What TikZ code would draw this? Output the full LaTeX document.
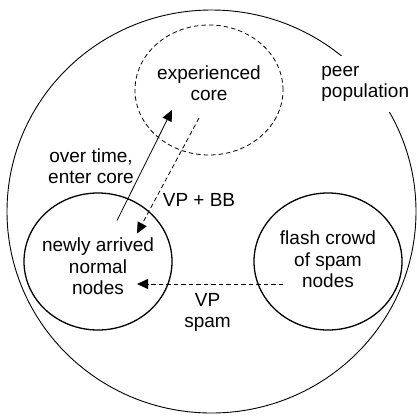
\documentclass[tikz,border=0pt]{standalone}
\usepackage{fontspec}
\setmainfont{Liberation Sans}
\usetikzlibrary{shapes.geometric,arrows.meta,calc}
\tikzset{
  blob/.style={ellipse, draw, line width=1.3pt, inner sep=0pt},
  lbl/.style={align=center, inner sep=1pt},
  tip/.style={-{Triangle[length=11pt,width=10pt]}},
  dsh/.style={dash pattern=on 4.5pt off 3pt},
}
\begin{document}
\begin{tikzpicture}[x=1pt,y=-1pt,font=\fontsize{19}{21.5}\selectfont, line width=0.8pt]
\useasboundingbox (0,0) rectangle (417,416);
\node[ellipse, draw, line width=0.9pt, minimum width=409pt, minimum height=403pt, inner sep=0pt] (pop) at (211.5,211.5) {};
\node[anchor=west, align=left, fill=white, inner sep=10pt] (poplbl) at (311,84) {peer\\population};
\node[ellipse, draw, dsh, line width=0.8pt, minimum width=148pt, minimum height=130pt, inner sep=0pt] (core) at (209,90) {};
\node[blob, minimum width=148pt, minimum height=137pt] (newly) at (98,261.5) {};
\node[blob, minimum width=148pt, minimum height=137pt] (spam) at (328,261.5) {};
\node[lbl] (coretxt) at ($(core.center)+(0,-7)$) {experienced\\core};
\node[lbl] (newlytxt) at ($(newly.center)+(0,5)$) {newly arrived\\normal\\nodes};
\node[lbl] (spamtxt) at ($(spam.center)+(0,-2)$) {flash crowd\\of spam\\nodes};
\coordinate (a1) at ($(newly.center)+(19,-41)$);
\coordinate (a2) at ($(core.center)+(-37,20)$);
\coordinate (b1) at ($(core.center)+(-10,28)$);
\coordinate (b2) at ($(newly.center)+(39,-28)$);
\coordinate (c1) at ($(spam.center)+(-45,22.5)$);
\coordinate (c2) at ($(newly.center)+(39,22.5)$);
\draw[tip] (a1) -- (a2);
\draw[tip, dsh] (b1) -- (b2);
\draw[tip, dsh] (c1) -- (c2);
\node[lbl] (l1) at (91,166) {over time,\\enter core};
\node[lbl] (l2) at (199,200) {VP + BB};
\node[lbl] (l3) at (207.5,312.5) {VP\\spam};
\end{tikzpicture}
\end{document}
